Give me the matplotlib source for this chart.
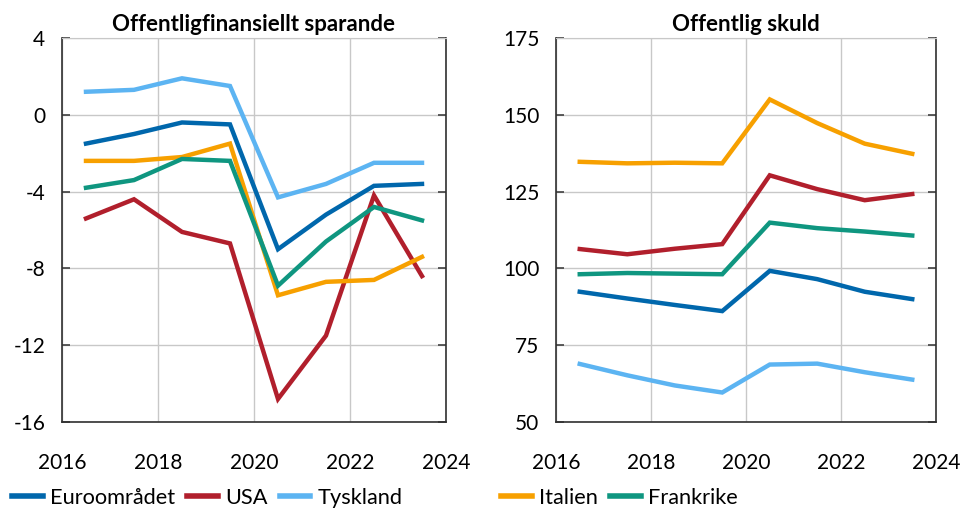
import matplotlib.pyplot as plt
from matplotlib.lines import Line2D

plt.rcParams["font.family"] = ["Lato", "DejaVu Sans"]
plt.rcParams["axes.unicode_minus"] = False

years = [2016.5, 2017.5, 2018.5, 2019.5, 2020.5, 2021.5, 2022.5, 2023.5]

# Offentligfinansiellt sparande (% av BNP)
saldo_euro = [-1.5, -1.0, -0.4, -0.5, -7.0, -5.2, -3.7, -3.6]
saldo_usa = [-5.4, -4.4, -6.1, -6.7, -14.8, -11.5, -4.2, -8.4]
saldo_tyskland = [1.2, 1.3, 1.9, 1.5, -4.3, -3.6, -2.5, -2.5]
saldo_italien = [-2.4, -2.4, -2.2, -1.5, -9.4, -8.7, -8.6, -7.4]
saldo_frankrike = [-3.8, -3.4, -2.3, -2.4, -8.9, -6.6, -4.8, -5.5]

# Offentlig skuld (% av BNP)
skuld_euro = [92.4, 90.2, 88.1, 86.1, 99.2, 96.5, 92.4, 90.0]
skuld_usa = [106.3, 104.6, 106.4, 107.9, 130.3, 125.8, 122.2, 124.2]
skuld_tyskland = [68.9, 65.2, 61.9, 59.6, 68.7, 69.0, 66.2, 63.8]
skuld_italien = [134.7, 134.2, 134.4, 134.2, 155.0, 147.3, 140.6, 137.3]
skuld_frankrike = [98.1, 98.5, 98.3, 98.1, 114.9, 113.1, 112.0, 110.7]

names = ["Euroområdet", "USA", "Tyskland", "Italien", "Frankrike"]
colors = ["#0067AC", "#B11F2C", "#5CB4F2", "#F7A000", "#0F9680"]

fig = plt.figure(figsize=(9.61, 5.09), dpi=100)
ax1 = fig.add_axes([62 / 961, 1 - 422 / 509, 384 / 961, 384 / 509])
ax2 = fig.add_axes([556 / 961, 1 - 422 / 509, 380 / 961, 384 / 509])

left_data = [saldo_euro, saldo_usa, saldo_tyskland, saldo_italien, saldo_frankrike]
right_data = [skuld_euro, skuld_usa, skuld_tyskland, skuld_italien, skuld_frankrike]

for ax, data in ((ax1, left_data), (ax2, right_data)):
    for vals, c in zip(data, colors):
        ax.plot(years, vals, color=c, linewidth=3.2, solid_joinstyle="miter")
    ax.set_xlim(2016, 2024)
    ax.set_xticks([2016, 2018, 2020, 2022, 2024])
    ax.grid(True, color="#c8c8c8", linewidth=1)
    ax.set_axisbelow(True)
    ax.tick_params(axis="x", length=0, pad=22, labelsize=15)
    ax.tick_params(axis="y", direction="in", length=6, width=1.2, left=True, right=True,
                   labelsize=15, pad=12, color="#404040")
    for side in ("left", "right", "bottom"):
        ax.spines[side].set_color("#303030")
        ax.spines[side].set_linewidth(1.2)
    ax.spines["top"].set_color("#c8c8c8")

ax1.set_ylim(-16, 4)
ax1.set_yticks(range(-16, 5, 4))
ax1.set_title("Offentligfinansiellt sparande", fontsize=16, fontweight="bold", pad=5)

ax2.set_ylim(50, 175)
ax2.set_yticks(range(50, 176, 25))
ax2.set_title("Offentlig skuld", fontsize=16, fontweight="bold", pad=5)

handles = [Line2D([], [], color=c, linewidth=4) for c in colors]
legend_kw = dict(frameon=False, fontsize=15.7, handlelength=1.4, handletextpad=0.35,
                 columnspacing=0.55, borderaxespad=0, borderpad=0)
fig.legend(handles[:3], names[:3], loc="center left", bbox_to_anchor=(12 / 961, 0.022),
           ncol=3, **legend_kw)
fig.legend(handles[3:], names[3:], loc="center left", bbox_to_anchor=(501 / 961, 0.022),
           ncol=2, **legend_kw)

fig.savefig("out.png", dpi=100)
